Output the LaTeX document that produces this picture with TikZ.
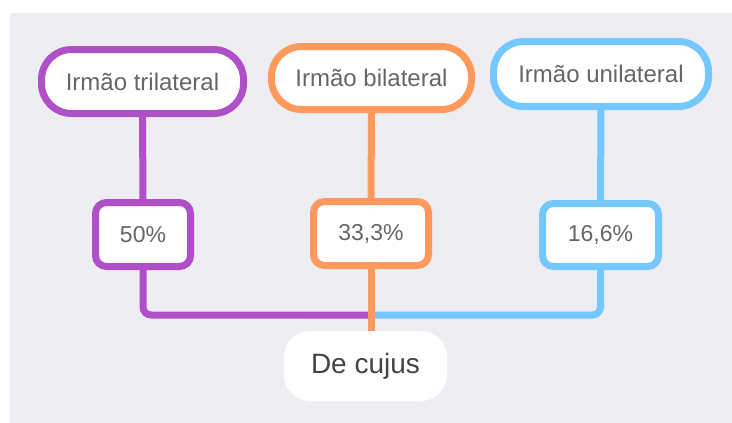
\documentclass[tikz,border=0pt]{standalone}
\usepackage{fontspec}
\setmainfont{Liberation Sans}
\definecolor{bg}{HTML}{EEEDF2}
\definecolor{cpurple}{HTML}{B050C8}
\definecolor{corange}{HTML}{FF9A5C}
\definecolor{cblue}{HTML}{74C7FF}
\definecolor{txt}{HTML}{666666}
\definecolor{txtdark}{HTML}{444444}
\tikzset{
  topbox/.style={draw=#1, line width=7pt, fill=white, rounded corners=30pt, inner sep=0pt,
    font=\fontsize{24}{28}\selectfont, text=txt},
  pctbox/.style={draw=#1, line width=7pt, fill=white, rounded corners=11pt, inner sep=0pt,
    font=\fontsize{23}{27}\selectfont, text=txt},
  link/.style={draw=#1, line width=7pt},
}
\begin{document}
\begin{tikzpicture}[x=1pt,y=-1pt]
\useasboundingbox (0,0) rectangle (732,423);
\fill[bg] (10,13) rectangle (732,423);
% top boxes
\node[topbox=cpurple, minimum width=202pt, minimum height=64pt] (t1) at (142.5,81.5) {Irmão trilateral};
\node[topbox=corange, minimum width=200pt, minimum height=63pt] (t2) at (371.5,78) {Irmão bilateral};
\node[topbox=cblue, minimum width=215pt, minimum height=65pt] (t3) at (601,74) {Irmão unilateral};
% percentage boxes
\node[pctbox=cpurple, minimum width=95pt, minimum height=64pt] (p1) at (143,234.5) {50\%};
\node[pctbox=corange, minimum width=115pt, minimum height=64pt] (p2) at (371,233.5) {33,3\%};
\node[pctbox=cblue, minimum width=116pt, minimum height=63pt] (p3) at (600.5,235) {16,6\%};
% de cujus
\node[fill=white, rounded corners=26pt, inner sep=0pt, minimum width=163pt, minimum height=70pt,
  font=\fontsize{28}{32}\selectfont, text=txtdark] (dc) at (365.5,366) {De cujus};
\coordinate (j) at (368,315);
% connectors
\draw[link=cpurple] (t1.south) -- (p1.north);
\draw[link=corange] (t2.south) -- (p2.north);
\draw[link=cblue] (t3.south) -- (p3.north);
\draw[link=cpurple, rounded corners=8pt] (p1.south) |- (j);
\draw[link=cblue, rounded corners=8pt] (p3.south) |- (j);
\draw[link=corange] (p2.south) -- (p2.south |- dc.north);
\end{tikzpicture}
\end{document}
